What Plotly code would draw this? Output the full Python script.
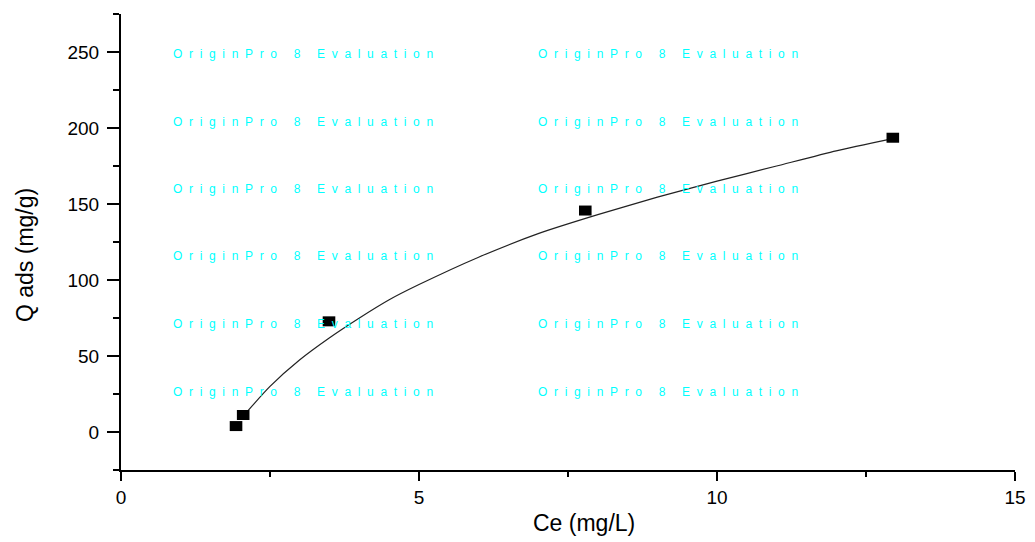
import plotly.graph_objects as go

# Measured adsorption data
ce = [1.93, 2.05, 3.49, 7.79, 12.95]
q_ads = [3.9, 11.2, 72.8, 145.7, 193.6]

# Fitted isotherm curve (sampled)
fit_ce = [2.05, 2.5, 3.0, 3.5, 4.0, 4.5, 5.0, 6.0, 7.0, 8.0, 9.0, 10.0, 11.0, 12.0, 12.95]
fit_q = [10.5, 30.0, 47.5, 62.0, 75.0, 87.0, 97.0, 115.0, 130.5, 143.0, 154.5, 165.0, 175.0, 185.0, 193.0]

x_ticks = [0, 5, 10, 15]
y_ticks = [0, 50, 100, 150, 200, 250]

# Evaluation watermark grid
wm_words = ["OriginPro", "8", "Evaluation"]
wm_cols = [0.84, 6.96]
wm_rows = [248.7, 204.0, 160.0, 115.5, 71.0, 26.3]

FONT = "Liberation Sans, Arial, sans-serif"
W, H = 1035, 542
M_L, M_R, M_T, M_B = 121, 20, 14, 72


def px_to_paper(px, py):
    """Convert page pixel position (from top-left) to paper coordinates."""
    return ((px - M_L) / (W - M_L - M_R), (H - py - M_B) / (H - M_T - M_B))


fig = go.Figure()

fig.add_trace(go.Scatter(
    x=fit_ce, y=fit_q, mode="lines",
    line=dict(color="#222222", width=1.2, shape="spline", smoothing=0.6),
    hoverinfo="skip", showlegend=False,
))

# Wide filled rectangles drawn as thick horizontal-line markers
fig.add_trace(go.Scatter(
    x=ce, y=q_ads, mode="markers",
    marker=dict(symbol="line-ew", size=9,
                line=dict(color="black", width=10)),
    showlegend=False,
))

letter_gap = "\u00a0\u00a0"
word_gap = "\u00a0" * 5
spaced = word_gap.join(letter_gap.join(w) for w in wm_words)
for xc in wm_cols:
    for yr in wm_rows:
        fig.add_annotation(
            x=xc, y=yr, xref="x", yref="y", text=spaced,
            showarrow=False, xanchor="left", yanchor="middle",
            font=dict(family=FONT, size=12, color="#00FFFF"),
        )

# Axis titles
tx, ty = px_to_paper(584, 523)
fig.add_annotation(
    x=tx, y=ty, xref="paper", yref="paper", text="Ce (mg/L)",
    showarrow=False, xanchor="center", yanchor="middle",
    font=dict(family=FONT, size=23, color="black"),
)
tx, ty = px_to_paper(25, 255)
fig.add_annotation(
    x=tx, y=ty, xref="paper", yref="paper", text="Q ads (mg/g)",
    showarrow=False, xanchor="center", yanchor="middle", textangle=-90,
    font=dict(family=FONT, size=23, color="black"),
)

axis_common = dict(
    showgrid=False, zeroline=False, showline=True, automargin=False,
    linecolor="black", linewidth=2,
    ticks="outside", tickcolor="black", tickwidth=2,
    tickfont=dict(family=FONT, size=19, color="black"),
)

fig.update_xaxes(
    **axis_common,
    range=[0, 15], tickvals=x_ticks, ticklen=9,
    minor=dict(dtick=2.5, ticks="outside", ticklen=5, tickwidth=2, tickcolor="black"),
)
fig.update_yaxes(
    **axis_common,
    range=[-25, 275], tickvals=y_ticks, ticklen=12, ticklabelstandoff=4,
    minor=dict(dtick=25, ticks="outside", ticklen=6, tickwidth=2, tickcolor="black"),
)

fig.update_layout(
    width=W, height=H,
    margin=dict(l=M_L, r=M_R, t=M_T, b=M_B),
    plot_bgcolor="white", paper_bgcolor="white",
)

fig.write_html("out.html")
